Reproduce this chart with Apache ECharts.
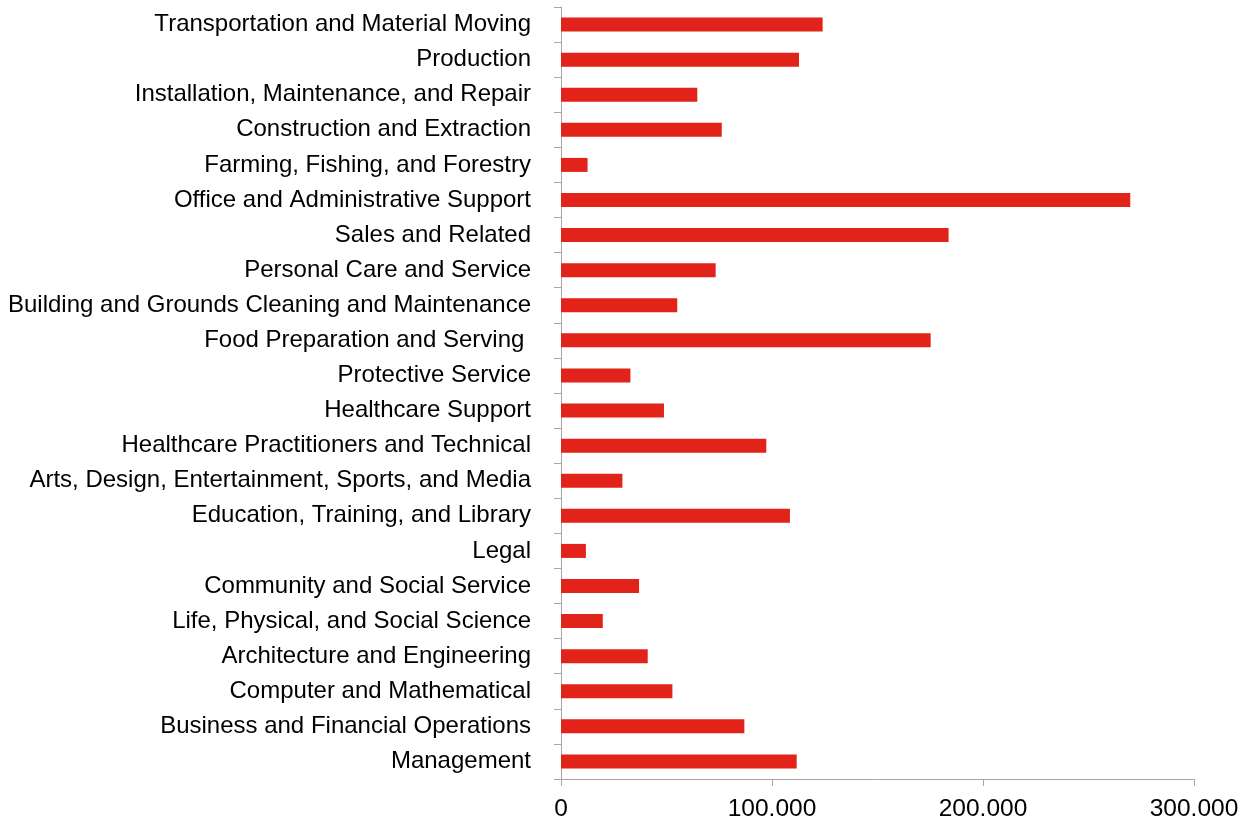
<!DOCTYPE html>
<html>
<head>
<meta charset="utf-8">
<script src="https://cdn.jsdelivr.net/npm/echarts@6/dist/echarts.min.js"></script>
<style>html,body{margin:0;padding:0;background:#fff;}#c{width:1254px;height:823px;}</style>
</head>
<body>
<div id="c"></div>
<script>
const categories = [
  "Transportation and Material Moving",
  "Production",
  "Installation, Maintenance, and Repair",
  "Construction and Extraction",
  "Farming, Fishing, and Forestry",
  "Office and Administrative Support",
  "Sales and Related",
  "Personal Care and Service",
  "Building and Grounds Cleaning and Maintenance",
  "Food Preparation and Serving ",
  "Protective Service",
  "Healthcare Support",
  "Healthcare Practitioners and Technical",
  "Arts, Design, Entertainment, Sports, and Media",
  "Education, Training, and Library",
  "Legal",
  "Community and Social Service",
  "Life, Physical, and Social Science",
  "Architecture and Engineering",
  "Computer and Mathematical",
  "Business and Financial Operations",
  "Management"
];
const values = [
  124000, 112800, 64600, 76200, 12600, 269800, 183700, 73300, 55100, 175200,
  32900, 48800, 97300, 29100, 108500, 11800, 37000, 19800, 41100, 52800, 86900, 111700
];
const xTicks = { min: 0, max: 300000, interval: 100000 };

const chart = echarts.init(document.getElementById('c'), null, { renderer: 'canvas' });
chart.setOption({
  animation: false,
  backgroundColor: '#ffffff',
  grid: { left: 561, right: 60, top: 7, bottom: 44, containLabel: false },
  xAxis: {
    type: 'value',
    min: xTicks.min, max: xTicks.max, interval: xTicks.interval,
    axisLine: { show: true, lineStyle: { color: '#a6a6a6', width: 1 } },
    axisTick: { show: true, length: 7, lineStyle: { color: '#a6a6a6' } },
    splitLine: { show: false },
    axisLabel: {
      margin: 18,
      color: '#000',
      fontFamily: 'Liberation Sans, Arial, sans-serif',
      fontSize: 24.5,
      formatter: v => v.toLocaleString('en-US').replace(/,/g, '.')
    }
  },
  yAxis: {
    type: 'category',
    inverse: true,
    data: categories,
    axisLine: { show: true, lineStyle: { color: '#a6a6a6', width: 1 } },
    axisTick: { show: true, length: 7, lineStyle: { color: '#a6a6a6' } },
    axisLabel: {
      margin: 30,
      color: '#000',
      fontFamily: 'Liberation Sans, Arial, sans-serif',
      fontSize: 24
    }
  },
  series: [{
    type: 'bar',
    data: values,
    barWidth: 14,
    itemStyle: { color: '#e2231a' }
  }]
});
</script>
</body>
</html>
